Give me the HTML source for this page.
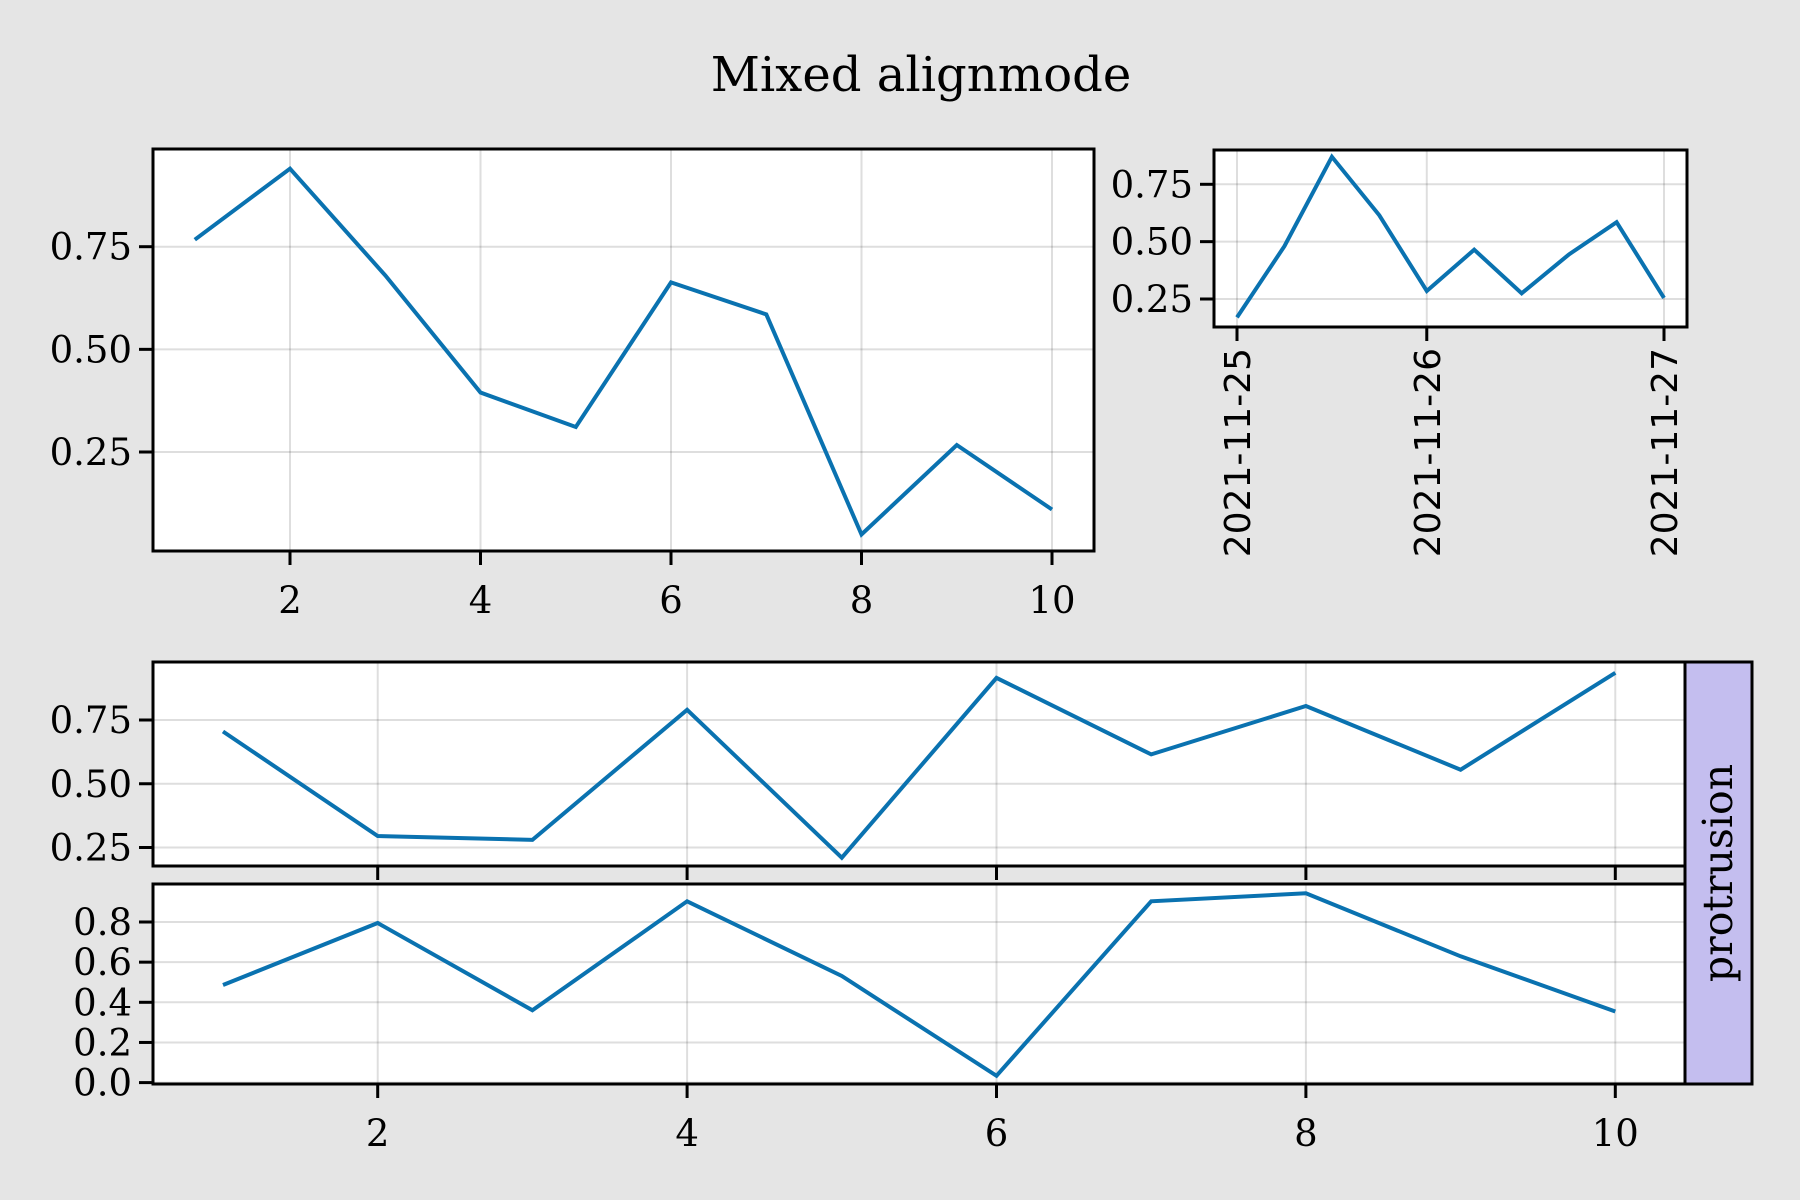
<!DOCTYPE html>
<html><head><meta charset="utf-8"><style>
html,body{margin:0;padding:0;background:#e5e5e5;}
svg{display:block;}
text{font-family:"DejaVu Serif","Liberation Serif",serif;fill:#000;}
</style></head><body>
<svg id="chart" width="1800" height="1200" viewBox="0 0 1800 1200" xmlns="http://www.w3.org/2000/svg">
<rect x="0" y="0" width="1800" height="1200" fill="#e5e5e5"/>
<text x="921" y="91" font-size="48" text-anchor="middle">Mixed alignmode</text>
</svg>
<script>
// ---- data ----
const xsTop = [1,2,3,4,5,6,7,8,9,10];
const ysTopLeft = [0.767,0.94,0.68,0.395,0.311,0.663,0.585,0.049,0.267,0.11];
const xTicksTop = [2,4,6,8,10];
const yTicksTopLeft = [0.25,0.5,0.75];

const dateIdx = [0,1,2,3,4,5,6,7,8,9];
const ysTopRight = [0.17,0.48,0.87,0.615,0.285,0.465,0.275,0.445,0.585,0.255];
const dateTickIdx = [0,4,9];
const dateTickLabels = ["2021-11-25","2021-11-26","2021-11-27"];
const yTicksTopRight = [0.25,0.5,0.75];

const xsBottom = [1,2,3,4,5,6,7,8,9,10];
const ysBottomUpper = [0.705,0.295,0.28,0.79,0.21,0.915,0.615,0.805,0.555,0.935];
const ysBottomLower = [0.486,0.795,0.36,0.903,0.531,0.034,0.903,0.943,0.629,0.354];
const xTicksBottom = [2,4,6,8,10];
const yTicksBottomUpper = [0.25,0.5,0.75];
const yTicksBottomLower = [0,0.2,0.4,0.6,0.8];
const yTickLabelsBottomLower = ["0.0","0.2","0.4","0.6","0.8"];

const NS = "http://www.w3.org/2000/svg";
const svg = document.getElementById('chart');
function mk(tag, attrs, parent){
  const e = document.createElementNS(NS, tag);
  for (const k in attrs) e.setAttribute(k, attrs[k]);
  (parent||svg).appendChild(e);
  return e;
}
function lin(d0,d1,r0,r1){ return v => r0 + (v-d0)*(r1-r0)/(d1-d0); }
const BLUE = "#0a72b0", GRID = "rgba(0,0,0,0.13)";

function panel(name, box, sx, sy, xs, ys, xt, yt, ytl, xtl, xLabelMode){
  const g = mk('g', {});
  
  
  const bg = mk('rect', {x:box.l, y:box.t, width:box.r-box.l, height:box.b-box.t, fill:'#fff'}, g);
  
  
  xt.forEach((v,i) => {
    const gl = mk('line', {x1:sx(v), x2:sx(v), y1:box.t, y2:box.b, stroke:GRID, 'stroke-width':2}, g);
    
    
    const tk = mk('line', {x1:sx(v), x2:sx(v), y1:box.b, y2:box.b+14, stroke:'#000', 'stroke-width':3}, g);
    
    
    if (xLabelMode === 'serif') {
      const t = mk('text', {x:sx(v), y:box.b+62, 'font-size':37, 'text-anchor':'middle'}, g);
      t.textContent = xtl[i];
      
      
    } else if (xLabelMode === 'date') {
      const x = sx(v) + 13, y = box.b + 21;
      const t = mk('text', {x:x, y:y, 'font-size':36, 'text-anchor':'end', transform:'rotate(-90 '+x+' '+y+')', style:'font-family:"DejaVu Sans","Liberation Sans",sans-serif'}, g);
      t.textContent = xtl[i];
      
      
    }
  });
  yt.forEach((v,i) => {
    const gl = mk('line', {x1:box.l, x2:box.r, y1:sy(v), y2:sy(v), stroke:GRID, 'stroke-width':2}, g);
    
    
    const tk = mk('line', {x1:box.l-14, x2:box.l, y1:sy(v), y2:sy(v), stroke:'#000', 'stroke-width':3}, g);
    
    
    const t = mk('text', {x:box.l-21, y:sy(v)+13, 'font-size':37, 'text-anchor':'end'}, g);
    t.textContent = ytl[i];
    
    
  });
  const pts = xs.map((x,i) => sx(x).toFixed(1)+','+sy(ys[i]).toFixed(1)).join(' ');
  const pl = mk('polyline', {points:pts, fill:'none', stroke:BLUE, 'stroke-width':4, 'stroke-linejoin':'miter'}, g);
  
  
  const fr = mk('rect', {x:box.l, y:box.t, width:box.r-box.l, height:box.b-box.t, fill:'none', stroke:'#000', 'stroke-width':3}, g);
  
  
}

const fmt2 = v => v.toFixed(2);

panel('top-left-axes', {l:153,r:1094,t:149,b:551}, lin(2,10,290,1052), lin(0.75,0.25,246.7,452),
  xsTop, ysTopLeft, xTicksTop, yTicksTopLeft, yTicksTopLeft.map(fmt2), xTicksTop.map(String), 'serif');

panel('top-right-axes', {l:1214,r:1687,t:150,b:327}, lin(0,9,1237,1664), lin(0.75,0.25,184.3,299),
  dateIdx, ysTopRight, dateTickIdx, yTicksTopRight, yTicksTopRight.map(fmt2), dateTickLabels, 'date');

panel('bottom-upper-axes', {l:153,r:1685,t:662,b:866}, lin(2,10,377.7,1615.3), lin(0.75,0.25,720,847.5),
  xsBottom, ysBottomUpper, xTicksBottom, yTicksBottomUpper, yTicksBottomUpper.map(fmt2), [], 'none');

panel('bottom-lower-axes', {l:153,r:1685,t:884,b:1084}, lin(2,10,377.7,1615.3), lin(0,0.8,1082.6,922),
  xsBottom, ysBottomLower, xTicksBottom, yTicksBottomLower, yTickLabelsBottomLower, xTicksBottom.map(String), 'serif');

const pr = mk('rect', {x:1685, y:662, width:67, height:422, fill:'#c4beef', stroke:'#000', 'stroke-width':3});


const pt = mk('text', {x:1732, y:873, 'font-size':41, 'text-anchor':'middle', transform:'rotate(-90 1732 873)'});
pt.textContent = 'protrusion';


</script>
</body></html>
